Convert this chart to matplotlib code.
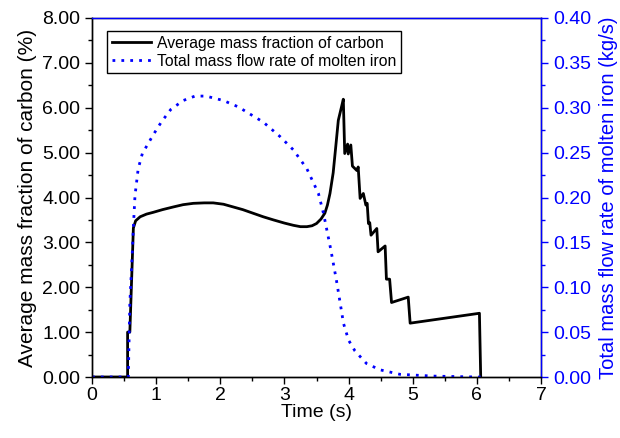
import matplotlib
matplotlib.use("Agg")
import matplotlib.pyplot as plt
from matplotlib.ticker import MultipleLocator, FormatStrFormatter

plt.rcParams['font.family'] = ['Liberation Sans', 'DejaVu Sans']

# Average mass fraction of carbon (%)
t_carbon = [0.0, 0.555, 0.555, 0.59, 0.645, 0.68, 0.75, 0.85, 0.956, 1.1, 1.27, 1.42, 1.58,
            1.75, 1.89, 2.05, 2.20, 2.35, 2.51, 2.67, 2.83, 3.0, 3.14, 3.25, 3.35, 3.43, 3.50,
            3.57, 3.63, 3.67, 3.71, 3.76, 3.80, 3.84, 3.89, 3.918, 3.94, 3.985, 3.995,
            4.035, 4.06, 4.13, 4.15, 4.18, 4.23, 4.27, 4.29, 4.31, 4.33, 4.35, 4.44, 4.46,
            4.57, 4.59, 4.64, 4.67, 4.93, 4.96, 6.04, 6.06]
carbon = [0.0, 0.0, 1.0, 1.0, 3.32, 3.48, 3.57, 3.63, 3.67, 3.73, 3.79, 3.84, 3.87,
          3.88, 3.88, 3.85, 3.79, 3.73, 3.65, 3.57, 3.50, 3.43, 3.38, 3.35, 3.35, 3.37, 3.42,
          3.52, 3.65, 3.83, 4.09, 4.55, 5.13, 5.72, 6.02, 6.19, 4.98, 5.19, 4.97,
          5.17, 4.70, 4.60, 4.68, 3.98, 4.09, 3.83, 3.87, 3.42, 3.44, 3.16, 3.31, 2.79,
          2.92, 2.18, 2.18, 1.66, 1.78, 1.20, 1.42, 0.0]

# Total mass flow rate of molten iron (kg/s)
t_flow = [0.0, 0.566, 0.59, 0.63, 0.645, 0.67, 0.72, 0.785, 0.842, 0.956, 1.08, 1.227,
          1.42, 1.606, 1.777, 2.05, 2.28, 2.44, 2.67, 2.93, 3.14, 3.35, 3.53, 3.61, 3.72,
          3.81, 3.87, 3.92, 4.0, 4.10, 4.28, 4.49, 4.80, 5.32, 6.0, 6.06]
flow = [0.0, 0.0, 0.082, 0.141, 0.167, 0.202, 0.232, 0.249, 0.256, 0.270, 0.284, 0.298,
        0.308, 0.313, 0.313, 0.308, 0.301, 0.294, 0.284, 0.268, 0.253, 0.232, 0.2045, 0.182, 0.143,
        0.108, 0.082, 0.060, 0.041, 0.029, 0.015, 0.008, 0.003, 0.001, 0.0, 0.0]

label_carbon = "Average mass fraction of carbon"
label_flow = "Total mass flow rate of molten iron"

fig = plt.figure(figsize=(6.2, 4.38), dpi=100)
ax = fig.add_axes([92/620, 61/438, 449/620, 359/438])
ax2 = ax.twinx()

l1, = ax.plot(t_carbon, carbon, color='black', lw=2.0, label=label_carbon)
l2, = ax2.plot(t_flow, flow, color='blue', lw=2.0, linestyle=(0, (1, 2.2)), label=label_flow)

ax.set_xlim(0, 7)
ax.set_ylim(0, 8)
ax2.set_ylim(0, 0.4)

ax.xaxis.set_major_locator(MultipleLocator(1))
ax.xaxis.set_minor_locator(MultipleLocator(0.5))
ax.yaxis.set_major_locator(MultipleLocator(1))
ax.yaxis.set_minor_locator(MultipleLocator(0.5))
ax.yaxis.set_major_formatter(FormatStrFormatter('%.2f'))
ax2.yaxis.set_major_locator(MultipleLocator(0.05))
ax2.yaxis.set_minor_locator(MultipleLocator(0.025))
ax2.yaxis.set_major_formatter(FormatStrFormatter('%.2f'))

fs = 14
ax.tick_params(axis='both', which='major', direction='out', length=5, width=1, labelsize=fs)
ax.tick_params(axis='both', which='minor', direction='out', length=3, width=1)
ax.tick_params(axis='x', which='major', pad=2)
ax2.tick_params(axis='y', which='major', direction='out', length=5, width=1, labelsize=fs,
                colors='blue')
ax2.tick_params(axis='y', which='minor', direction='out', length=3, width=1, colors='blue')

ax.set_xlabel("Time (s)", fontsize=fs, labelpad=0)
ax.set_ylabel("Average mass fraction of carbon (%)", fontsize=15, labelpad=4)
ax2.set_ylabel("Total mass flow rate of molten iron (kg/s)", fontsize=14.5, color='blue', labelpad=6)

for a in (ax, ax2):
    for s in a.spines.values():
        s.set_linewidth(1.0)
ax2.spines['right'].set_color('blue')
ax2.spines['top'].set_color('blue')
ax2.spines['left'].set_color('black')
ax2.spines['bottom'].set_color('black')

leg = ax2.legend(handles=[l1, l2], loc='upper left', bbox_to_anchor=(0.033, 0.964),
                 borderaxespad=0, fontsize=11.3, frameon=True, fancybox=False,
                 edgecolor='black', framealpha=1, handlelength=2.5, handletextpad=0.4,
                 borderpad=0.3, labelspacing=0.2)
leg.get_frame().set_linewidth(1.0)

fig.savefig("out.png", dpi=100)
